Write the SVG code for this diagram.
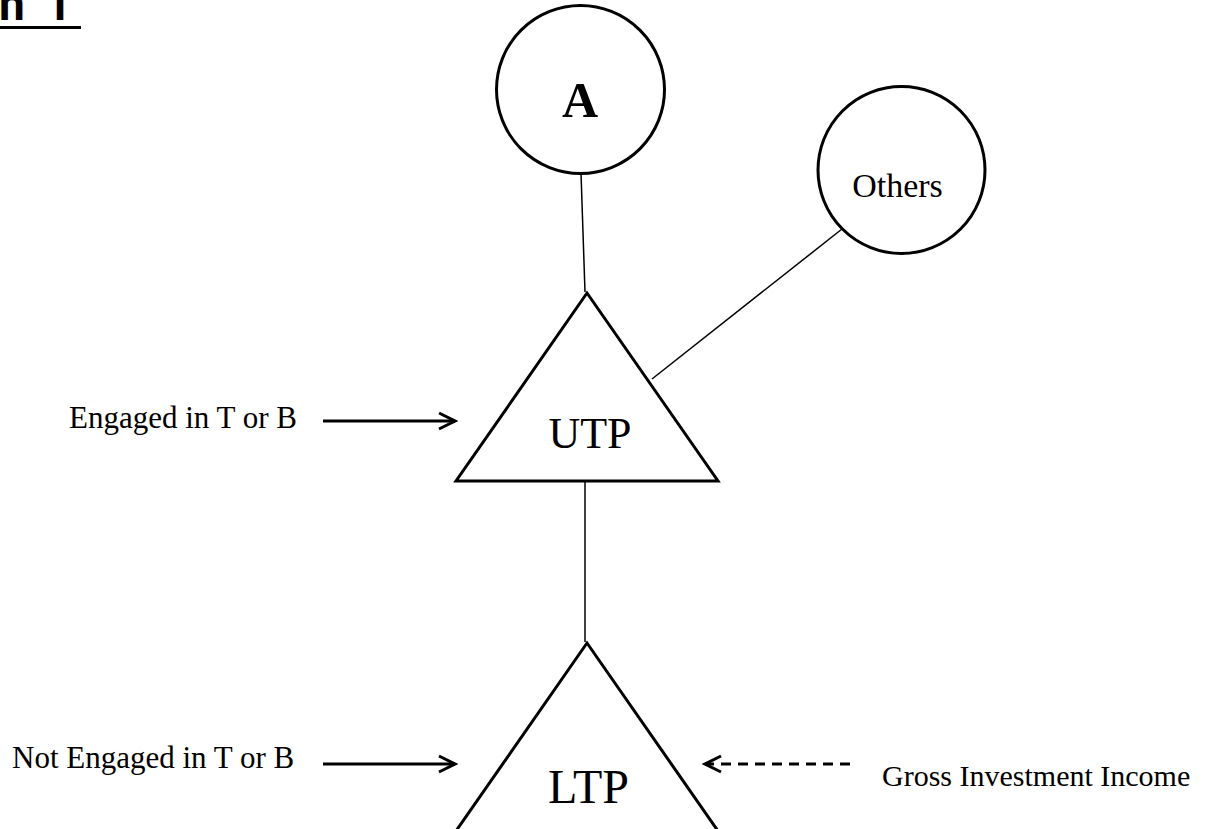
<svg xmlns="http://www.w3.org/2000/svg" width="1221" height="829" viewBox="0 0 1221 829">
<style>
.node{fill:#fff;stroke:#000;stroke-width:3}
.conn{stroke:#000;stroke-width:1.5;fill:none}
.arr{stroke:#000;stroke-width:3;fill:none}
.t{font-family:"Liberation Serif","Times New Roman",serif;fill:#000}
.title{font-family:Roboto,"Liberation Sans",Arial,sans-serif;font-weight:bold;font-size:46px;fill:#000}
</style>
<defs>
<marker id="head" viewBox="0 0 20 20" refX="17" refY="10" markerWidth="20" markerHeight="20" markerUnits="userSpaceOnUse" orient="auto">
<path d="M1,2 L17,10 L1,18" fill="none" stroke="#000" stroke-width="3"/>
</marker>
</defs>
<rect width="1221" height="829" fill="#fff"/>
<g id="title">
<text class="title" x="-1" y="20" word-spacing="9">n 1</text>
<line x1="0" y1="27.5" x2="81" y2="27.5" stroke="#000" stroke-width="3"/>
</g>
<g id="connectors">
<line class="conn" x1="581" y1="173" x2="585" y2="292"/>
<line class="conn" x1="842" y1="229" x2="652" y2="379"/>
<line class="conn" x1="585" y1="481" x2="585" y2="642"/>
<line class="arr" x1="323" y1="421" x2="455" y2="421" marker-end="url(#head)"/>
<line class="arr" x1="323" y1="764" x2="455" y2="764" marker-end="url(#head)"/>
<line class="arr" x1="850" y1="764" x2="705" y2="764" stroke-dasharray="10 7" marker-end="url(#head)"/>
</g>
<g id="node-A">
<circle class="node" cx="580.5" cy="89.5" r="84"/>
<text class="t" x="580" y="117" text-anchor="middle" font-size="50" font-weight="bold">A</text>
</g>
<g id="node-others">
<circle class="node" cx="901.5" cy="170" r="83.5"/>
<text class="t" x="897.5" y="197" text-anchor="middle" font-size="34">Others</text>
</g>
<g id="node-utp">
<polygon class="node" points="587,293 456,481 718,481"/>
<text class="t" x="590" y="448" text-anchor="middle" font-size="44">UTP</text>
</g>
<g id="node-ltp">
<polygon class="node" points="587,643 456,831 718,831"/>
<text class="t" x="588.5" y="803" text-anchor="middle" font-size="48">LTP</text>
</g>
<g id="labels">
<text class="t" x="69" y="428" font-size="31">Engaged in T or B</text>
<text class="t" x="12" y="768" font-size="31">Not Engaged in T or B</text>
<text class="t" x="882" y="786" font-size="30">Gross Investment Income</text>
</g>
</svg>
